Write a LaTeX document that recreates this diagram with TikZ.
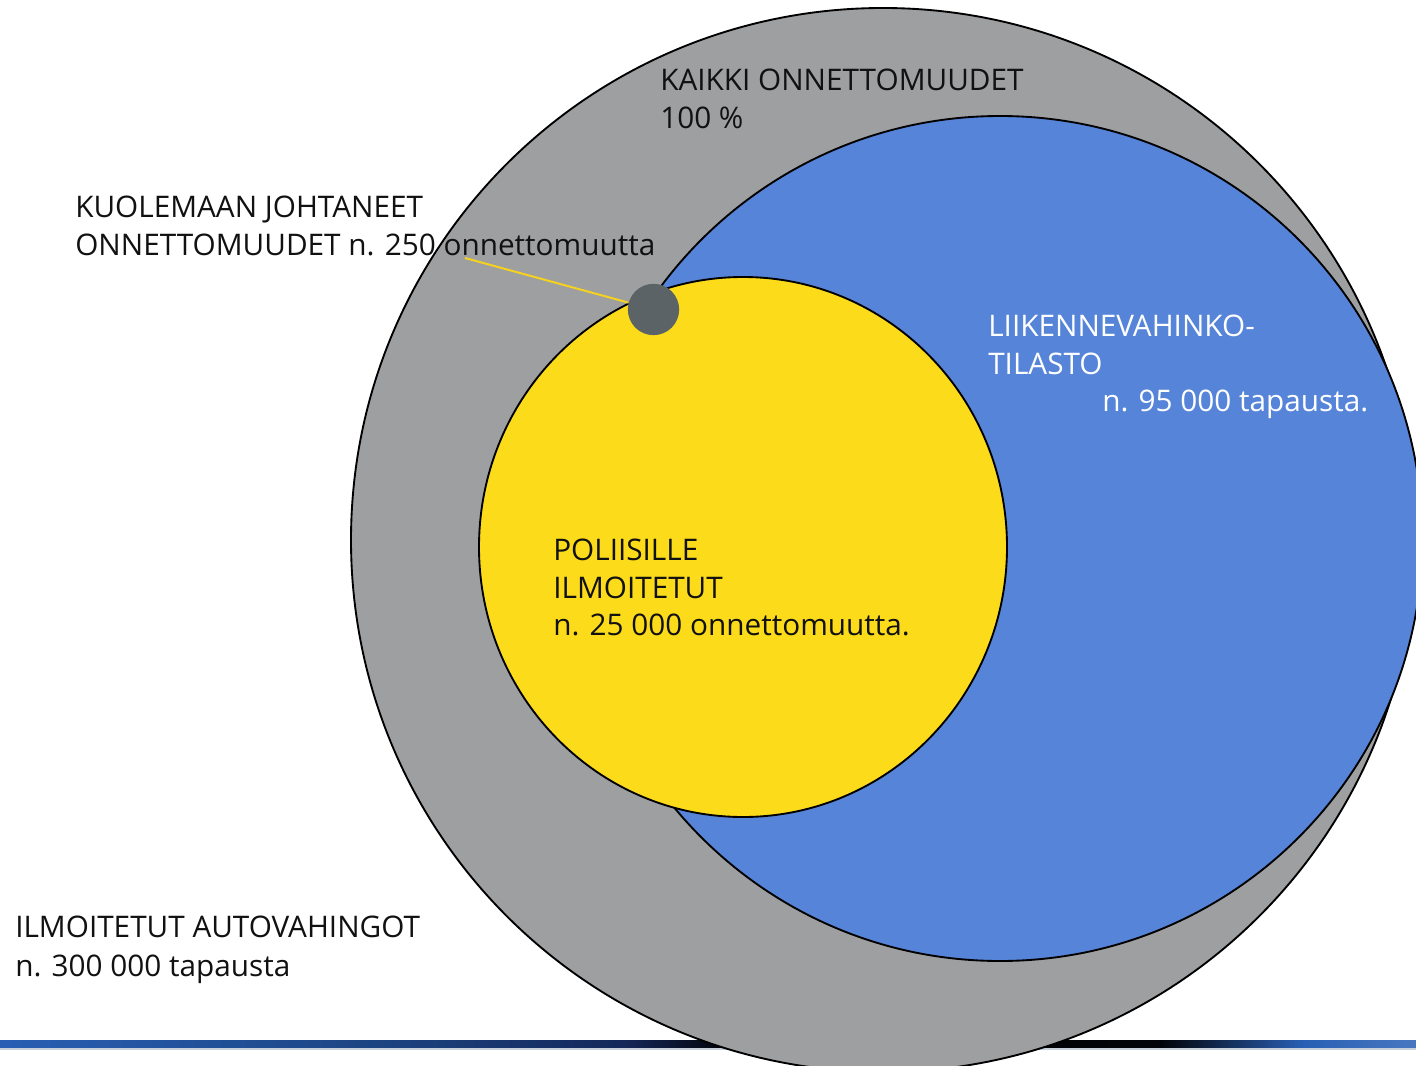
\documentclass[tikz,border=0pt]{standalone}
\usepackage{fontspec}
\setmainfont{Open Sans}
\usetikzlibrary{shapes.geometric}
\definecolor{grayc}{RGB}{158,159,161}
\definecolor{bluec}{RGB}{85,132,216}
\definecolor{yellowc}{RGB}{252,220,26}
\definecolor{darkc}{RGB}{91,99,102}
\definecolor{linec}{RGB}{245,210,31}
\definecolor{txtc}{RGB}{17,17,17}
\definecolor{stripblue}{RGB}{40,95,180}
\definecolor{stripnavy}{RGB}{20,40,90}
\definecolor{stripline}{RGB}{200,208,220}
\pgfdeclarehorizontalshading{stripshade}{100bp}{color(0bp)=(stripblue); color(25bp)=(stripblue); color(37bp)=(stripblue!75!black); color(47bp)=(stripnavy); color(51bp)=(black); color(66bp)=(black!90!stripnavy); color(71bp)=(stripblue); color(75bp)=(stripblue!85!white); color(100bp)=(stripblue!85!white)}
\tikzset{
  ring/.style={circle, draw=black, line width=1.4pt, inner sep=0pt},
  lbl/.style={anchor=base west, inner sep=0pt, text=txtc, font=\fontsize{22.3pt}{28pt}\selectfont},
  wlbl/.style={lbl, text=white},
}
\begin{document}
\begin{tikzpicture}[x=0.75pt,y=-0.75pt]
\useasboundingbox (0,0) rectangle (1416,1066);
\clip (0,0) rectangle (1416,1066);
% bottom strip
\fill[shading=stripshade] (0,1040) rectangle (1416,1048);
\fill[stripline] (0,1048) rectangle (1416,1050);
% circles
\node[ring, fill=grayc, minimum size=798pt] (all) at (883,540) {};
\node[ring, fill=bluec, minimum size=633.75pt] (stat) at (1000,538.5) {};
\node[ellipse, draw=black, line width=1.4pt, inner sep=0pt, fill=yellowc, minimum width=396pt, minimum height=405pt] (police) at (743,547) {};
\node[circle, fill=darkc, inner sep=0pt, minimum size=38.5pt] (fatal) at (653.5,309.5) {};
% connector
\coordinate (ls) at (465,258);
\draw[linec, line width=1.5pt] (ls) -- (fatal);
% texts
\node[lbl] (t1a) at (660,91) {KAIKKI ONNETTOMUUDET};
\node[lbl] (t1b) at (660,129) {100 \%};
\node[lbl] (t2a) at (75,218) {KUOLEMAAN JOHTANEET};
\node[lbl] (t2b) at (75,256) {ONNETTOMUUDET n. 250 onnettomuutta};
\node[wlbl] (t3a) at (988,336) {LIIKENNEVAHINKO-};
\node[wlbl] (t3b) at (988,374) {TILASTO};
\node[wlbl] (t3c) at (1102,411) {n. 95 000 tapausta.};
\node[lbl] (t4a) at (553,560) {POLIISILLE};
\node[lbl] (t4b) at (553,598) {ILMOITETUT};
\node[lbl] (t4c) at (553,635) {n. 25 000 onnettomuutta.};
\node[lbl] (t5a) at (15,937) {ILMOITETUT AUTOVAHINGOT};
\node[lbl] (t5b) at (15,976) {n. 300 000 tapausta};
\end{tikzpicture}
\end{document}
